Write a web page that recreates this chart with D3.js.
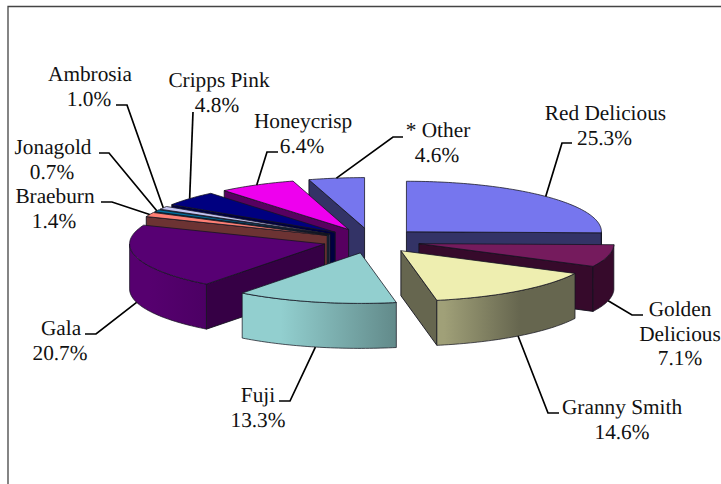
<!DOCTYPE html>
<html><head><meta charset="utf-8">
<script src="https://cdn.jsdelivr.net/npm/d3@7"></script>
<style>html,body{margin:0;padding:0;background:#fff;overflow:hidden}svg{display:block}text{text-rendering:geometricPrecision}</style>
</head><body><div id="chart"></div>
<script>
const categories = ["Red Delicious","Golden Delicious","Granny Smith","Fuji","Gala","Braeburn","Jonagold","Ambrosia","Cripps Pink","Honeycrisp","* Other"];
const values = [25.3,7.1,14.6,13.3,20.7,1.4,0.7,1.0,4.8,6.4,4.6];
const labelLines = [["Red Delicious"],["Golden","Delicious"],["Granny Smith"],["Fuji"],["Gala"],["Braeburn"],["Jonagold"],["Ambrosia"],["Cripps Pink"],["Honeycrisp"],["* Other"]];
const topColors = ["#7676ee","#751b5d","#eeeeb0","#92cfcf","#570073","#ff8075","#0072a0","#c4c4f2","#000080","#ee00ee","#7676ee"];
const wallColors = ["#333366","#360a2b","#66664f","#5f8a8a","#360045","#6c3333","#003850","#555577","#000040","#570060","#333366"];
const outerLight = ["#333366","#360a2b","#a0a078","#92cfcf","#56006f","#6c3333","#003850","#555577","#000040","#570060","#333366"];
const outerDark  = ["#333366","#360a2b","#66664f","#628a8a","#4c0064","#6c3333","#003850","#555577","#000040","#570060","#333366"];
// label layout: text centre/baseline of first line, leader elbow, leader end
const labelX = [605.5,680,622,258,61,55,53,90,219,303,438];
const labelY = [120,316,414,402,335,203,154,81,87,128,137];
const pctX   = [604.5,680,622,258,60,54,52,89,217,302,437];
const elbows = [[562,143],[632,315],[548,413],[290,401],[96,334],[112,202],[109,153],[127,105],[193,112],[267,152],[393,137]];
const ends   = [[572,143],[643,315],[559,413],[279,401],[85,334],[101,202],[99,153],[116,105],[193,112],[278,152],[403,137]];

const W=721,H=484,cx=371.6,cy=240.6,rx=195,ry=50.5,depth=45,explode=0.25;
const svg=d3.select("#chart").append("svg").attr("width",W).attr("height",H);
const defs=svg.append("defs");
const TAU=Math.PI*2;
const arcs=d3.pie().sort(null).value(d=>d).startAngle(0).endAngle(TAU)(values);
const lineGen=d3.line();

svg.append("path").attr("d",`M8,${H}V6.5H${W}`).attr("fill","none").attr("stroke","#444").attr("stroke-width",1.3);

const pieces=arcs.map((a,i)=>{
  const mid=(a.startAngle+a.endAngle)/2;
  const ox=cx+explode*rx*Math.sin(mid), oy=cy-explode*ry*Math.cos(mid);
  const pt=(t,dz=0)=>[ox+rx*Math.sin(t),oy-ry*Math.cos(t)+dz];
  return {a,i,mid,ox,oy,pt};
});

const order=pieces.slice().sort((p,q)=>(-Math.cos(q.mid))-(-Math.cos(p.mid))).reverse();
const edge="#14141f";
order.forEach(p=>{
  const {a,i,ox,oy,pt}=p;
  const g=svg.append("g").attr("class","slice").attr("data-name",categories[i]);
  const arcPts=(s,e)=>{const n=Math.max(4,Math.ceil((e-s)/0.02));return d3.range(n+1).map(k=>pt(s+(e-s)*k/n));};
  const wall=t=>[[ox,oy],pt(t),pt(t,depth),[ox,oy+depth]];
  [[a.startAngle,Math.sin(a.startAngle)<-1e-6],[a.endAngle,Math.sin(a.endAngle)>1e-6]].filter(w=>w[1]).forEach(w=>{
    g.append("path").attr("d",lineGen(wall(w[0]))+"Z").attr("fill",wallColors[i]).attr("stroke",edge).attr("stroke-width",.9).attr("stroke-linejoin","round");
  });
  const s=Math.max(a.startAngle,Math.PI/2), e=Math.min(a.endAngle,Math.PI*1.5);
  if(e>s){
    const gid="g"+i;
    const lg=defs.append("linearGradient").attr("id",gid);
    lg.append("stop").attr("offset",i===2?"0.05":"0.25").attr("stop-color",outerLight[i]);
    lg.append("stop").attr("offset",i===2?"0.6":"1").attr("stop-color",outerDark[i]);
    const upper=arcPts(s,e);
    const lower=upper.map(q=>[q[0],q[1]+depth]).reverse();
    g.append("path").attr("d",lineGen(upper.concat(lower))+"Z").attr("fill",`url(#${gid})`).attr("stroke",edge).attr("stroke-opacity",.8).attr("stroke-width",.9).attr("stroke-linejoin","round");
  }
  g.append("path").attr("d",lineGen([[ox,oy]].concat(arcPts(a.startAngle,a.endAngle)))+"Z")
    .attr("fill",topColors[i]).attr("stroke",edge).attr("stroke-opacity",.85).attr("stroke-width",.9).attr("stroke-linejoin","round");
});

pieces.forEach(p=>{
  const front=Math.cos(p.mid)<0;
  const start=p.pt(p.mid,front?depth:0);
  svg.append("path").attr("class","leader").attr("d",lineGen([start,elbows[p.i],ends[p.i]]))
    .attr("fill","none").attr("stroke","#000").attr("stroke-width",1.7);
});

const fmt=d3.format(".1f");
pieces.forEach(p=>{
  const i=p.i,lines=labelLines[i];
  const t=svg.append("text").attr("font-family","'Liberation Serif','Times New Roman',serif").attr("font-size",21.3).attr("fill","#111").attr("text-anchor","middle");
  lines.forEach((l,k)=>t.append("tspan").attr("x",labelX[i]).attr("y",labelY[i]+k*24.5).text(l));
  t.append("tspan").attr("x",pctX[i]).attr("y",labelY[i]+lines.length*24.5).text(fmt(values[i])+"%");
});
</script></body></html>
